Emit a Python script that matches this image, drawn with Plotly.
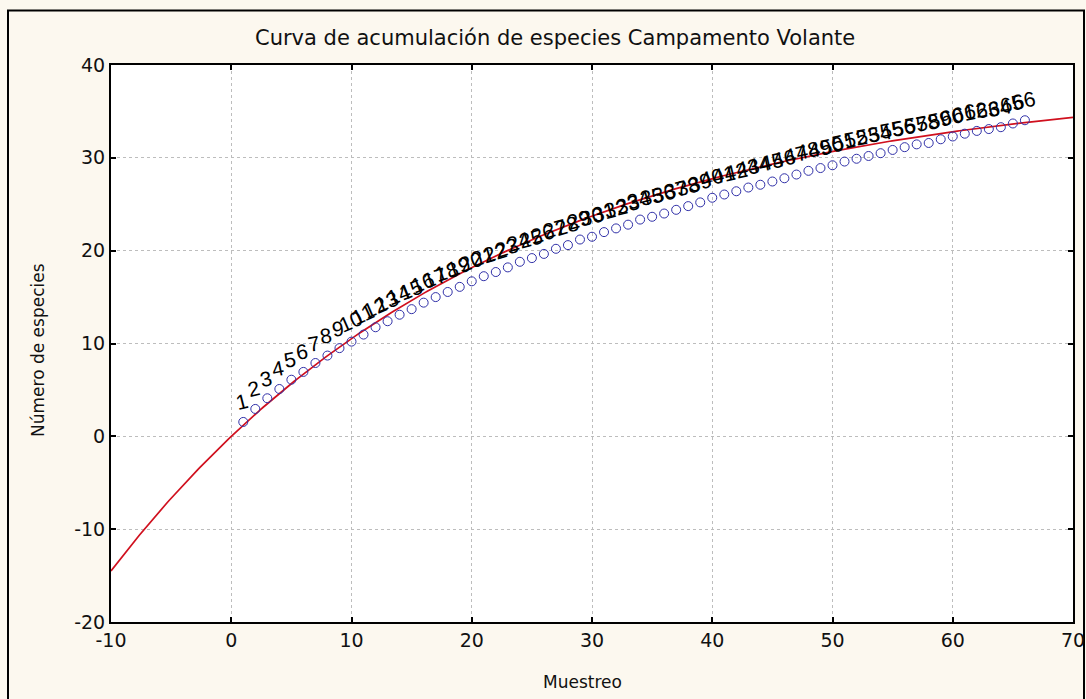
import math
import numpy as np
import plotly.graph_objects as go

# Sampling units (Muestreo) and mean accumulated species count
muestreo = list(range(1, 67))
especies = [
    1.55, 2.95, 4.1, 5.1, 6.1, 6.94, 7.9, 8.7, 9.5, 10.2,
    10.96, 11.75, 12.4, 13.1, 13.7, 14.4, 15.0, 15.55, 16.1, 16.7,
    17.25, 17.7, 18.2, 18.8, 19.2, 19.65, 20.2, 20.6, 21.2, 21.5,
    22.0, 22.4, 22.8, 23.35, 23.65, 24.0, 24.4, 24.8, 25.2, 25.7,
    26.05, 26.4, 26.8, 27.1, 27.45, 27.8, 28.2, 28.6, 28.9, 29.2,
    29.6, 29.9, 30.2, 30.5, 30.85, 31.15, 31.45, 31.6, 32.0, 32.3,
    32.6, 32.9, 33.1, 33.3, 33.7, 34.05,
]
etiquetas = [str(m) for m in muestreo]

# Fitted negative-exponential accumulation model  y = a * (1 - exp(-b x))
fit_a = 38.45
fit_b = 0.032
curve_x = np.linspace(-10, 70, 400)
curve_y = fit_a * (1 - np.exp(-fit_b * curve_x))

x_ticks = [-10, 0, 10, 20, 30, 40, 50, 60, 70]
y_ticks = [-20, -10, 0, 10, 20, 30, 40]
x_ticktext = ["-10", "0", "10", "20", "30", "40", "50", "60", "70"]
y_ticktext = ["-20", "-10", "0", "10", "20", "30", "40"]

FONT = "DejaVu Sans, Verdana, sans-serif"
LABEL_FONT = "Liberation Sans, Arial, sans-serif"
W, H = 1086, 699
L, R, T, B = 111, 13, 65, 77
plot_w = W - L - R
plot_h = H - T - B
px_x = plot_w / 80.0
px_y = plot_h / 60.0

fig = go.Figure()

fig.add_trace(go.Scatter(
    x=curve_x, y=curve_y, mode="lines",
    line=dict(color="#d0101e", width=1.7),
    hoverinfo="skip", showlegend=False,
))

fig.add_trace(go.Scatter(
    x=muestreo, y=especies, mode="markers",
    marker=dict(symbol="circle-open", size=9, color="#3030a8",
                line=dict(width=1, color="#3030a8")),
    showlegend=False,
))

# Sample number next to each point, tilted along the local trend
annotations = []
n = len(muestreo)
for i in range(n):
    j0, j1 = max(i - 1, 0), min(i + 1, n - 1)
    slope = (especies[j1] - especies[j0]) / (muestreo[j1] - muestreo[j0])
    ang = math.degrees(math.atan(slope * px_y / px_x))
    tilt = ang * 0.8 if len(etiquetas[i]) > 1 else ang * 0.3
    annotations.append(dict(
        x=muestreo[i], y=especies[i], text=etiquetas[i],
        showarrow=False, xanchor="center", yanchor="middle",
        yshift=20, xshift=-1, textangle=-tilt,
        font=dict(family=LABEL_FONT, size=21, color="#000000"),
    ))

annotations.append(dict(
    x=(555 - L) / plot_w, y=(H - B - 38) / plot_h, xref="paper", yref="paper",
    text="Curva de acumulación de especies Campamento Volante",
    showarrow=False, xanchor="center", yanchor="middle",
    font=dict(family=FONT, size=21, color="#111111"),
))
annotations.append(dict(
    x=(582 - L) / plot_w, y=(H - B - 682) / plot_h, xref="paper", yref="paper",
    text="Muestreo", showarrow=False, xanchor="center", yanchor="middle",
    font=dict(family=FONT, size=17, color="#111111"),
))
annotations.append(dict(
    x=(38 - L) / plot_w, y=(H - B - 350) / plot_h, xref="paper", yref="paper",
    text="Número de especies", showarrow=False, textangle=-90,
    xanchor="center", yanchor="middle",
    font=dict(family=FONT, size=17, color="#111111"),
))

# Outer frame around the whole graph
shapes = [dict(
    type="rect", xref="paper", yref="paper",
    x0=(8 - L) / plot_w, x1=(1084 - L) / plot_w,
    y0=(H - B - 710) / plot_h, y1=(H - B - 10.5) / plot_h,
    line=dict(color="black", width=2), fillcolor="rgba(0,0,0,0)", layer="below",
)]

axis_common = dict(
    showgrid=True, gridcolor="#bdbdbd", griddash="dot", gridwidth=1,
    zeroline=False, showline=True, linecolor="black", linewidth=2, mirror="ticks",
    ticks="inside", ticklen=5, tickcolor="black", tickwidth=1.5,
    automargin=False,
    tickfont=dict(family=FONT, size=19, color="#111111"),
)

fig.update_layout(
    width=W, height=H,
    margin=dict(l=L, r=R, t=T, b=B, pad=0, autoexpand=False),
    paper_bgcolor="#fcf8ef", plot_bgcolor="white",
    xaxis=dict(range=[-10, 70], tickvals=x_ticks, ticktext=x_ticktext, **axis_common),
    yaxis=dict(range=[-20, 40], tickvals=y_ticks, ticktext=y_ticktext, **axis_common),
    annotations=annotations, shapes=shapes,
)

fig.write_html("out.html")
